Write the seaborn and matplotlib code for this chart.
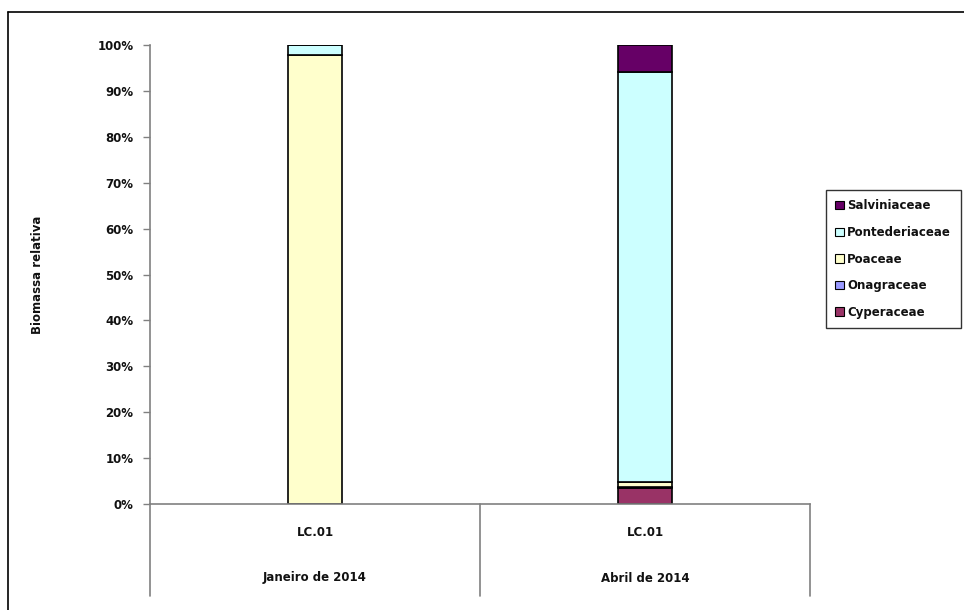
import matplotlib
matplotlib.use("Agg")
import matplotlib.pyplot as plt
import seaborn as sns
import numpy as np
import pandas as pd
from matplotlib.lines import Line2D
from matplotlib.patches import Patch

# ---- data ----
sites = ["LC.01", "LC.01"]
periods = ["Janeiro de 2014", "Abril de 2014"]
families = ["Cyperaceae", "Onagraceae", "Poaceae", "Pontederiaceae", "Salviniaceae"]
cyperaceae = [0.0, 3.4]
onagraceae = [0.0, 0.4]
poaceae = [97.8, 1.0]
pontederiaceae = [2.2, 89.4]
salviniaceae = [0.0, 5.8]
yticks = [0, 10, 20, 30, 40, 50, 60, 70, 80, 90, 100]
colors = ["#993366", "#9999FF", "#FFFFCC", "#CCFFFF", "#660066"]

values = [cyperaceae, onagraceae, poaceae, pontederiaceae, salviniaceae]
groups = [f"{s}\n{p}" for s, p in zip(sites, periods)]

sns.set_theme(style="white")
plt.rcParams["font.family"] = ["DejaVu Sans"]
plt.rcParams["font.weight"] = "bold"
FS = 8.5

fig = plt.figure(figsize=(9.64, 6.10), dpi=100)
ax = fig.add_axes([150 / 964, (610 - 504) / 610, 660 / 964, 459 / 610])

bottom = np.zeros(len(groups))
for fam, vals, col in zip(families, values, colors):
    d = pd.DataFrame({"grupo": groups, "valor": vals})
    sns.barplot(data=d, x="grupo", y="valor", ax=ax, color=col, saturation=1,
                edgecolor="black", linewidth=1.2, width=0.164,
                bottom=bottom.copy(), order=groups)
    bottom += np.array(vals)

ax.set_ylim(0, 100)
ax.set_xlim(-0.5, 1.5)
ax.set_yticks(yticks)
ax.set_yticklabels([f"{v}%" for v in yticks], fontsize=FS, fontweight="bold",
                   color="#111111")
ax.set_xticks([])
ax.set_xlabel("")
ax.set_ylabel("Biomassa relativa", fontsize=FS, fontweight="bold", color="#111111")
ax.yaxis.set_label_coords((44 - 150) / 660, 0.5)
ax.tick_params(axis="y", which="both", left=True, length=5, width=1,
               color="#808080", pad=7)

for side in ["top", "right"]:
    ax.spines[side].set_visible(False)
for side in ["left", "bottom"]:
    ax.spines[side].set_color("#808080")
    ax.spines[side].set_linewidth(1.2)

# two-level category labels and separators
trans = ax.get_xaxis_transform()
sep_depth = -(596 - 504) / 459
for xs in [-0.5, 0.5, 1.5]:
    ax.add_line(Line2D([xs, xs], [0, sep_depth], transform=trans, color="#808080",
                       lw=1.2, clip_on=False))
for i, (s, p) in enumerate(zip(sites, periods)):
    ax.text(i, -(532 - 504) / 459, s, transform=trans, ha="center", va="center",
            fontsize=FS, fontweight="bold", color="#111111")
    ax.text(i, -(578 - 504) / 459, p, transform=trans, ha="center", va="center",
            fontsize=FS, fontweight="bold", color="#111111")

# legend
handles = [Patch(facecolor=c, edgecolor="black", linewidth=0.8) for c in colors]
leg = fig.legend(handles[::-1], families[::-1], loc="upper left",
                 bbox_to_anchor=(826 / 964, (610 - 190) / 610),
                 fontsize=FS, frameon=True, fancybox=False, shadow=False,
                 labelspacing=1.15, handlelength=0.7, handleheight=0.7,
                 handletextpad=0.3, borderpad=0.8, borderaxespad=0)
leg.get_frame().set_edgecolor("black")
leg.get_frame().set_linewidth(1.0)
for t in leg.get_texts():
    t.set_fontweight("bold")
    t.set_color("#111111")

# outer chart border
fig.add_artist(Line2D([8 / 964, 8 / 964], [0, (610 - 12) / 610], color="black", lw=1.2))
fig.add_artist(Line2D([8 / 964, 1], [(610 - 12) / 610, (610 - 12) / 610], color="black", lw=1.2))

fig.savefig("out.png", dpi=100)
